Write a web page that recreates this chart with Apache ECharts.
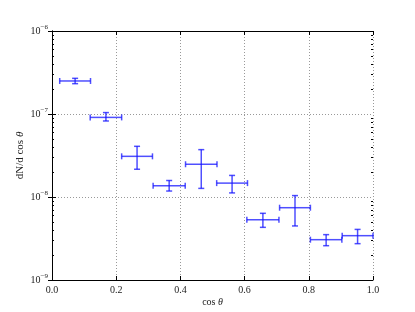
<!DOCTYPE html>
<html>
<head>
<meta charset="utf-8">
<script src="https://cdn.jsdelivr.net/npm/echarts@6/dist/echarts.min.js"></script>
<style>html,body{margin:0;padding:0;background:#fff}#c{width:415px;height:312px}</style>
</head>
<body>
<div id="c"></div>
<script>
// Data
const xCenters = [0.072, 0.168, 0.265, 0.365, 0.465, 0.561, 0.657, 0.757, 0.854, 0.952];
const xHalfWidth = [0.048, 0.049, 0.048, 0.050, 0.049, 0.048, 0.050, 0.048, 0.049, 0.048];
const yValues = [2.50e-7, 9.1e-8, 3.09e-8, 1.37e-8, 2.48e-8, 1.47e-8, 5.33e-9, 7.43e-9, 3.06e-9, 3.42e-9];
const yLower  = [2.32e-7, 8.24e-8, 2.16e-8, 1.18e-8, 1.27e-8, 1.12e-8, 4.31e-9, 4.48e-9, 2.59e-9, 2.74e-9];
const yUpper  = [2.69e-7, 1.04e-7, 4.08e-8, 1.58e-8, 3.72e-8, 1.82e-8, 6.36e-9, 1.04e-8, 3.52e-9, 4.07e-9];
const xTicks = [0.0, 0.2, 0.4, 0.6, 0.8, 1.0];
const yMinorTicks = [];
[1e-9, 1e-8, 1e-7].forEach(d => { for (let k = 2; k <= 9; k++) yMinorTicks.push(k * d); });

const FONT = 'Liberation Serif';
const barData = xCenters.map((x, i) => [x, yValues[i], xHalfWidth[i], yLower[i], yUpper[i]]);
const minorData = yMinorTicks.map(v => [0, v]);

const chart = echarts.init(document.getElementById('c'), null, {renderer: 'canvas'});
const supFmt = v => {
  const e = Math.round(Math.log10(v));
  return '{b|10}{s|\u2212' + Math.abs(e) + '}';
};
const blue = 'rgba(20,20,255,0.75)';
chart.setOption({
  animation: false,
  grid: {left: 52, right: 42, top: 31, bottom: 32},
  xAxis: [{
    type: 'value', min: 0, max: 1, interval: 0.2,
    axisLine: {lineStyle: {color: '#000', width: 1}},
    axisTick: {inside: true, length: 4, lineStyle: {color: '#000'}},
    axisLabel: {fontFamily: FONT, fontSize: 10, color: '#222', margin: 5,
      formatter: v => v.toFixed(1)},
    splitLine: {show: true, lineStyle: {color: '#999', type: [1, 2], width: 1}},
    name: 'cos {i|\u03b8}', nameLocation: 'middle', nameGap: 17, nameMoveOverlap: false,
    nameTextStyle: {fontFamily: FONT, fontSize: 10, color: '#222',
      rich: {i: {fontFamily: FONT, fontSize: 10, fontStyle: 'italic', color: '#222'}}}
  }, {
    type: 'value', min: 0, max: 1, interval: 0.2, position: 'top',
    axisLine: {lineStyle: {color: '#000', width: 1}},
    axisTick: {inside: true, length: 4, lineStyle: {color: '#000'}},
    axisLabel: {show: false}, splitLine: {show: false}
  }],
  yAxis: [{
    type: 'log', logBase: 10, min: 1e-9, max: 1e-6,
    axisLine: {show: true, lineStyle: {color: '#000', width: 1}},
    axisTick: {show: true, inside: true, length: 4, lineStyle: {color: '#000'}},
    axisLabel: {fontFamily: FONT, fontSize: 10, color: '#222', margin: 4,
      formatter: supFmt,
      rich: {b: {fontFamily: FONT, fontSize: 10, color: '#222'},
             s: {fontFamily: FONT, fontSize: 7, color: '#222', padding: [0, 0, 7, 0]}}},
    splitLine: {show: true, lineStyle: {color: '#999', type: [1, 2], width: 1}},
    name: 'dN/d cos {i|\u03b8}', nameLocation: 'middle', nameGap: 26, nameRotate: 90,
    nameMoveOverlap: false,
    nameTextStyle: {fontFamily: FONT, fontSize: 11, color: '#222',
      rich: {i: {fontFamily: FONT, fontSize: 11, fontStyle: 'italic', color: '#222'}}}
  }, {
    type: 'log', logBase: 10, min: 1e-9, max: 1e-6, position: 'right',
    axisLine: {show: true, lineStyle: {color: '#000', width: 1}},
    axisTick: {show: true, inside: true, length: 4, lineStyle: {color: '#000'}},
    axisLabel: {show: false}, splitLine: {show: false}
  }],
  series: [{
    type: 'custom', xAxisIndex: 0, yAxisIndex: 0, data: minorData, silent: true,
    renderItem: (params, api) => {
      const v = api.value(1);
      const pl = api.coord([0, v]);
      const pr = api.coord([1, v]);
      const st = {stroke: '#000', lineWidth: 1};
      return {type: 'group', children: [
        {type: 'line', shape: {x1: pl[0], y1: Math.round(pl[1]) + 0.5, x2: pl[0] + 2, y2: Math.round(pl[1]) + 0.5}, style: st},
        {type: 'line', shape: {x1: pr[0], y1: Math.round(pr[1]) + 0.5, x2: pr[0] - 2, y2: Math.round(pr[1]) + 0.5}, style: st}
      ]};
    }
  }, {
    type: 'custom', xAxisIndex: 0, yAxisIndex: 0, data: barData,
    renderItem: (params, api) => {
      const x = api.value(0), y = api.value(1), hw = api.value(2);
      const lo = api.value(3), hi = api.value(4);
      const pl = api.coord([x - hw, y]);
      const pr = api.coord([x + hw, y]);
      const pt = api.coord([x, hi]);
      const pb = api.coord([x, lo]);
      const c = 3;
      const st = {stroke: blue, lineWidth: 1.5};
      const L = (x1, y1, x2, y2) => ({type: 'line', shape: {x1, y1, x2, y2}, style: st});
      return {type: 'group', children: [
        L(pl[0], pl[1], pr[0], pr[1]),
        L(pt[0], pt[1], pb[0], pb[1]),
        L(pt[0] - c, pt[1], pt[0] + c, pt[1]),
        L(pb[0] - c, pb[1], pb[0] + c, pb[1]),
        L(pl[0], pl[1] - c, pl[0], pl[1] + c),
        L(pr[0], pr[1] - c, pr[0], pr[1] + c)
      ]};
    }
  }]
});
</script>
</body>
</html>
